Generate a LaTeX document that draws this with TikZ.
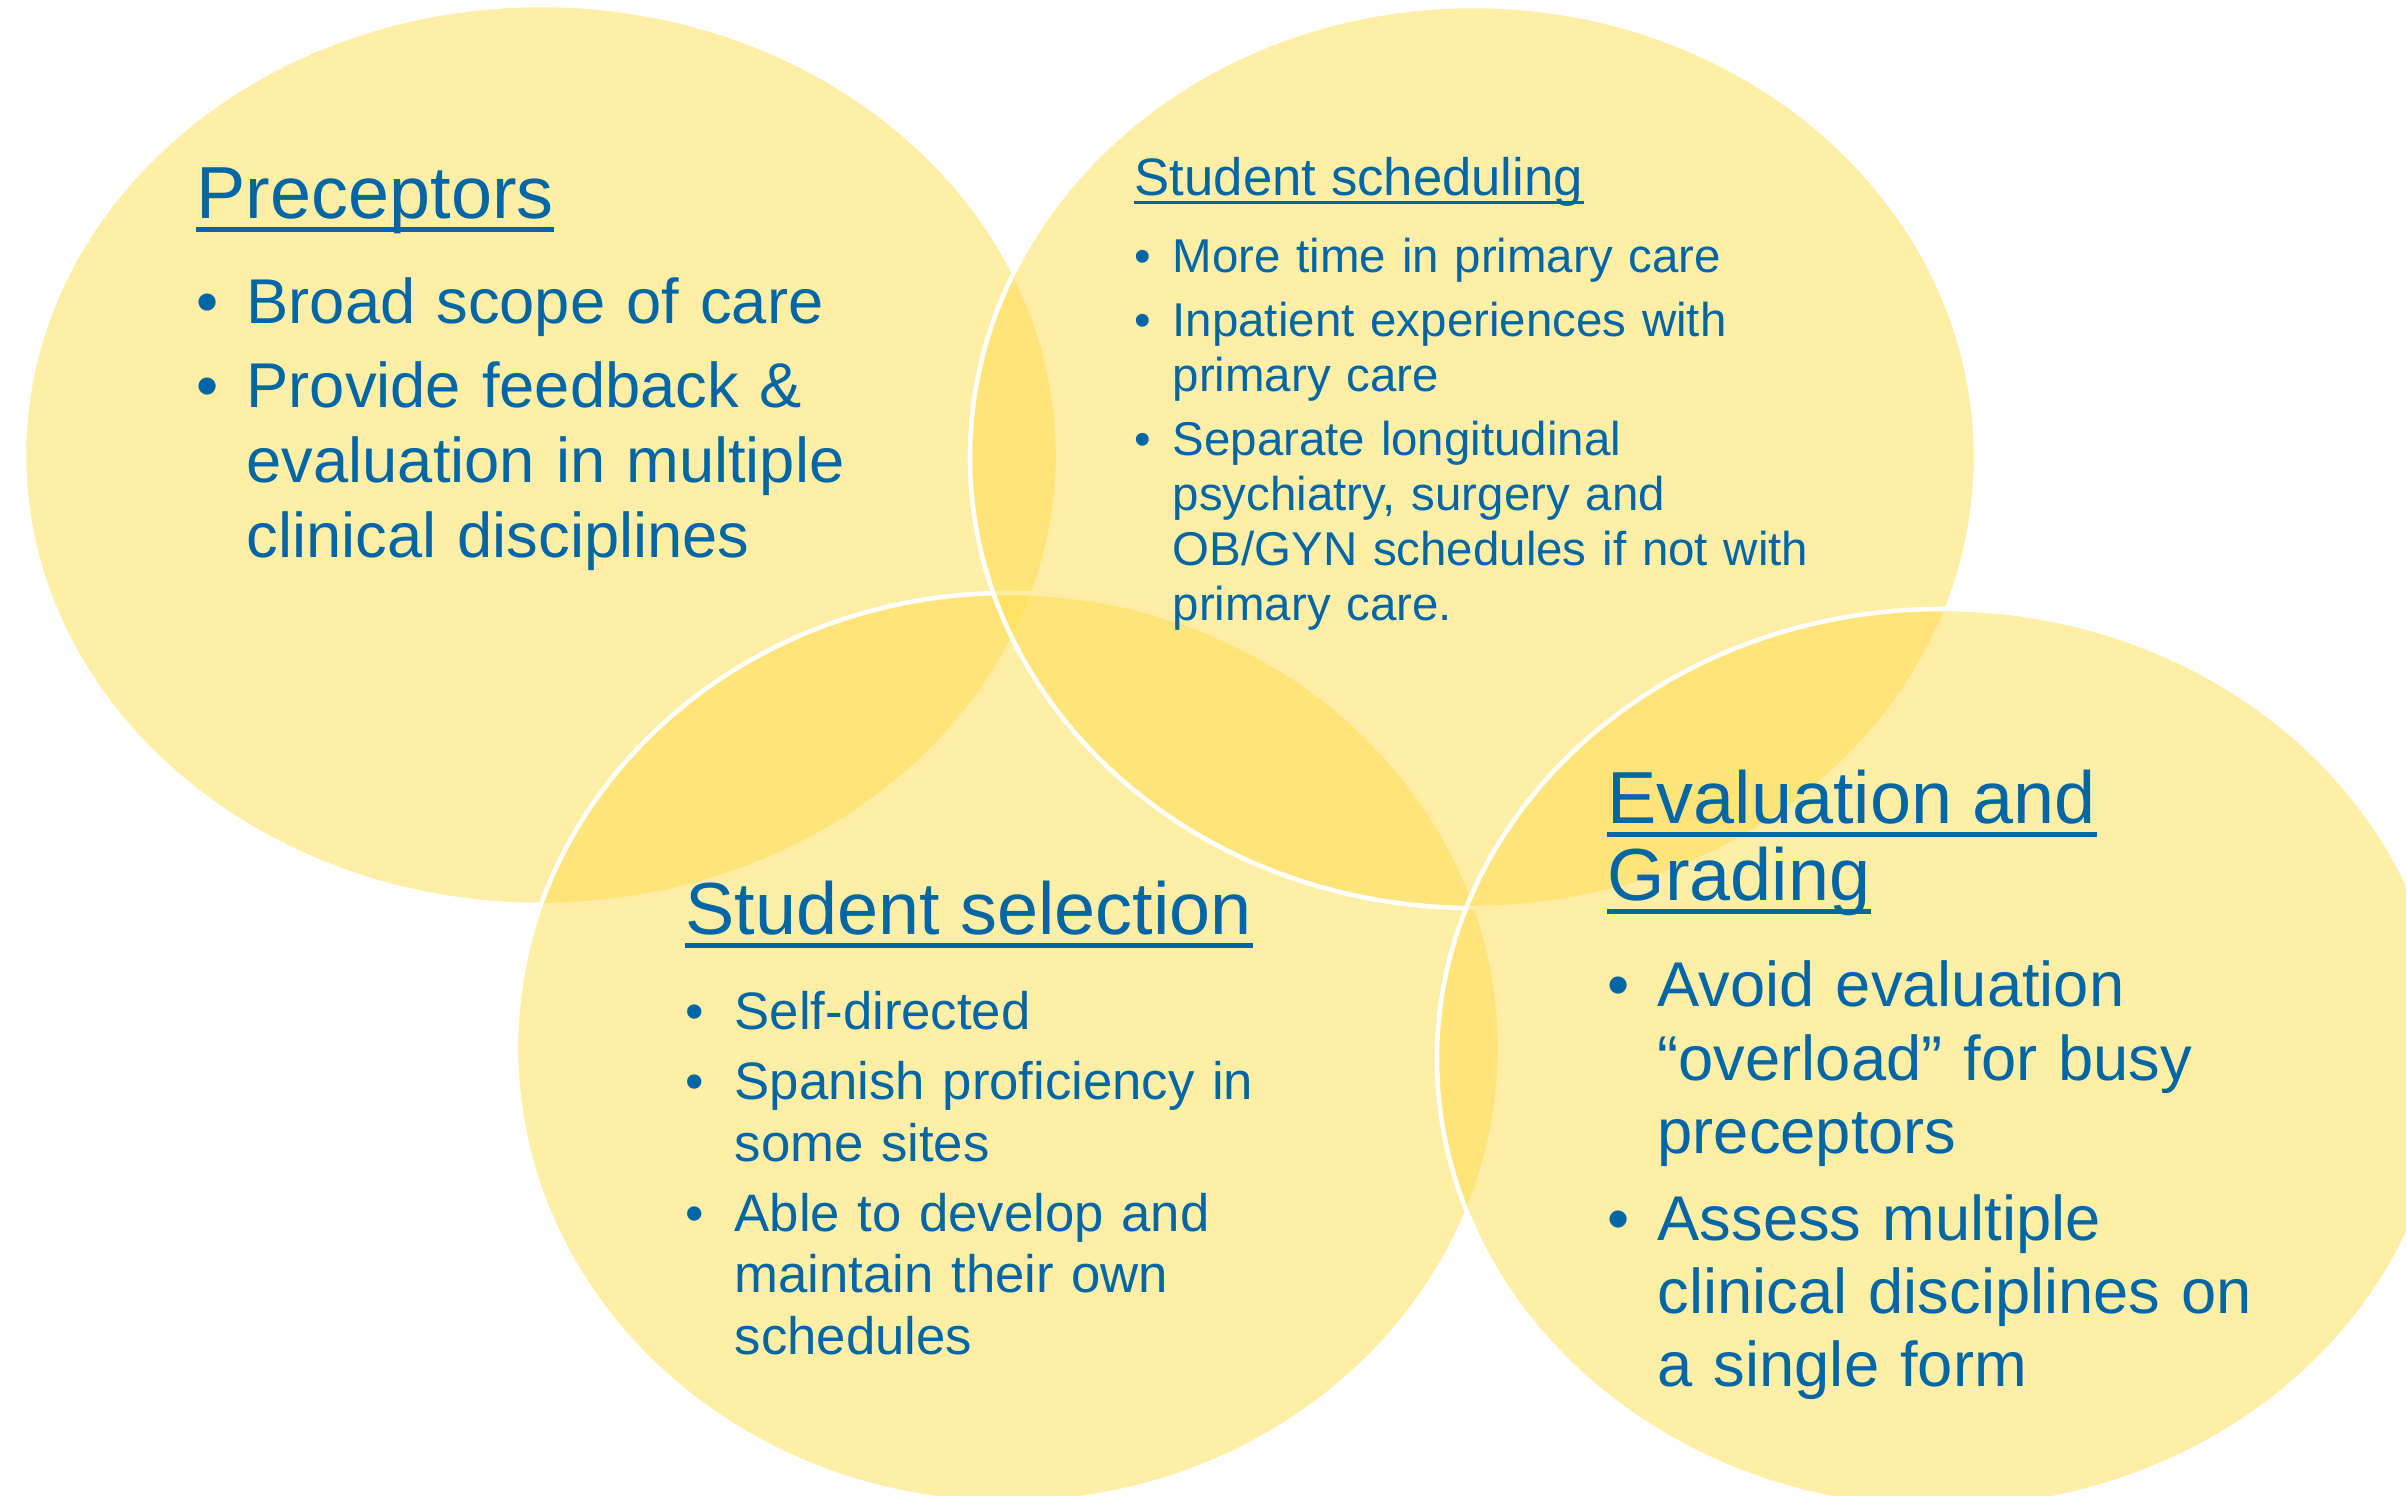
\documentclass[tikz,border=0pt]{standalone}
\usepackage{fontspec}
\setmainfont{Liberation Sans}
\usetikzlibrary{shapes.geometric}
\definecolor{ringgold}{HTML}{FFDD4D}
\definecolor{txtblue}{HTML}{0066A6}
\newlength{\bulind}
\newcommand{\bul}[1]{\hangindent=\bulind\hangafter=1\noindent\makebox[\bulind][l]{\textbullet}#1\par}

\begin{document}
\begin{tikzpicture}[
  ring/.style={ellipse, draw=white, line width=1.3pt, fill=ringgold, fill opacity=0.5, inner sep=0pt},
  head/.style={anchor=base west, inner sep=0pt, text=txtblue, font=\fontsize{21}{25}\selectfont},
  subhead/.style={head, font=\fontsize{15}{18}\selectfont},
  uline/.style={txtblue, line width=1.4pt},
  blist/.style n args={3}{anchor=base west, inner sep=0pt, text=txtblue, text width=9cm, align=left, font=#1,
    execute at begin node={\setlength{\bulind}{#2}\setlength{\parskip}{#3}}},
]
  \useasboundingbox (0,0) rectangle (24.06,-14.96);
  \clip (0,0) rectangle (24.06,-14.96);

  \node[ring, minimum width=10.34cm, minimum height=9.00cm] (precbg) at (5.41,-4.55) {};
  \node[ring, minimum width=9.84cm, minimum height=9.10cm] (selbg) at (10.08,-10.48) {};
  \node[ring, minimum width=10.06cm, minimum height=9.02cm] (schedbg) at (14.73,-4.57) {};
  \node[ring, minimum width=10.10cm, minimum height=9.00cm] (evalbg) at (19.42,-10.59) {};

  \node[head] (prechd) at (1.96,-2.19) {Preceptors};
  \node[subhead] (schedhd) at (11.34,-1.96) {Student scheduling};
  \node[head] (selhd) at (6.85,-9.35) {Student selection};
  \node[head] (evalhd) at (16.07,-8.24) {Evaluation and};
  \node[head] (evalhdb) at (16.07,-9.01) {Grading};

  \foreach \h in {prechd, selhd, evalhd, evalhdb}
    \draw[uline] ([yshift=-0.105cm]\h.base west) -- ([yshift=-0.105cm]\h.base east);
  \draw[uline, line width=1.1pt] ([yshift=-0.065cm]schedhd.base west) -- ([yshift=-0.065cm]schedhd.base east);

  \node[blist={\fontsize{18}{21.2}\selectfont}{0.5cm}{2.7pt}] (preclist) at (1.96,-3.24)
    {\bul{Broad scope of care}\bul{Provide feedback \&\newline evaluation in multiple\newline clinical disciplines}};
  \node[blist={\fontsize{13.5}{15.6}\selectfont}{0.38cm}{2.6pt}] (schedlist) at (11.34,-2.73)
    {\bul{More time in primary care}\bul{Inpatient experiences with\newline primary care}\bul{Separate longitudinal\newline psychiatry, surgery and\newline OB/GYN schedules if not with\newline primary care.}};
  \node[blist={\fontsize{15}{17.5}\selectfont}{0.49cm}{2.4pt}] (sellist) at (6.85,-10.30)
    {\bul{Self-directed}\bul{Spanish proficiency in\newline some sites}\bul{Able to develop and\newline maintain their own\newline schedules}};
  \node[blist={\fontsize{18}{20.9}\selectfont}{0.5cm}{3.6pt}] (evallist) at (16.07,-10.07)
    {\bul{Avoid evaluation\newline “overload” for busy\newline preceptors}\bul{Assess multiple\newline clinical disciplines on\newline a single form}};
\end{tikzpicture}
\end{document}
